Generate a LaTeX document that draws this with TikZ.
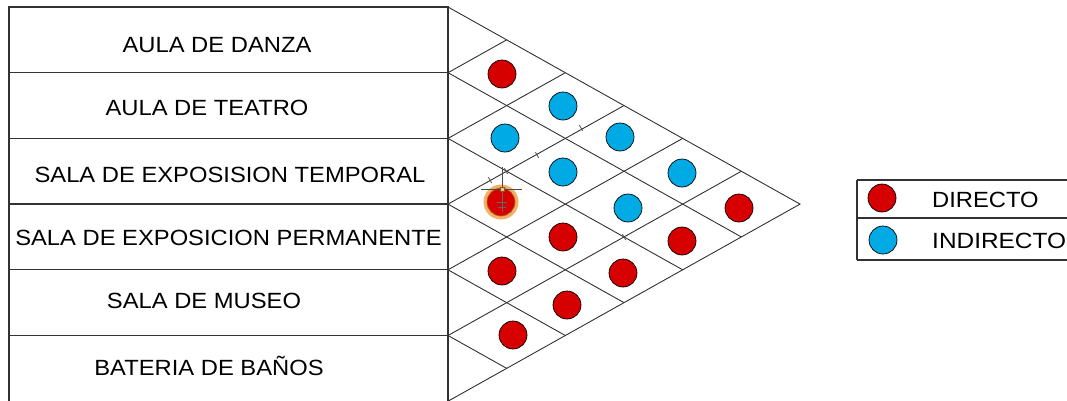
\documentclass[tikz,border=0pt]{standalone}
\usepackage{fontspec}
\setmainfont{Liberation Sans}
\usepackage{graphicx}
\definecolor{dred}{RGB}{214,0,0}
\definecolor{dblue}{RGB}{0,170,228}
\definecolor{halo}{RGB}{240,150,50}
\definecolor{tline}{RGB}{50,50,50}
\newcommand\stx[1]{\scalebox{1.08}[1]{#1}}
\begin{document}
\begin{tikzpicture}[x=1pt,y=-1pt,
  tableline/.style={draw=tline,line width=1.3pt},
  gridline/.style={draw=tline,line width=0.9pt},
  lbl/.style={anchor=base,inner sep=0pt,font=\fontsize{22}{22}\selectfont},
  dot/.style={circle,draw=black,line width=0.7pt,minimum size=28pt,inner sep=0pt},
  rdot/.style={dot,fill=dred},
  bdot/.style={dot,fill=dblue},
  selmark/.style={draw=black!70,line width=0.8pt}]
\useasboundingbox (0,0) rectangle (1067,400);
\clip (0,0) rectangle (1067,400);
\def\h{65.7}
\def\w{58.6667}
% boundary points
\foreach \k in {0,...,6}{\coordinate (b\k) at (448,{7+\k*\h});}
\coordinate (apex) at (800,{7+3*\h});
% table
\draw[tableline] (9,7) rectangle (448,{7+6*\h});
\foreach \k in {1,...,5}{\draw[tableline] (9,{7+\k*\h}) -- (b\k);}
% row labels
\node[lbl] (r1) at (217,52) {\stx{AULA DE DANZA}};
\node[lbl] (r2) at (207,115) {\stx{AULA DE TEATRO}};
\node[lbl] (r3) at (230,182) {\stx{SALA DE EXPOSISION TEMPORAL}};
\node[lbl] (r4) at (228.5,245) {\stx{SALA DE EXPOSICION PERMANENTE}};
\node[lbl] (r5) at (204,308) {\stx{SALA DE MUSEO}};
\node[lbl] (r6) at (209,375) {\stx{BATERIA DE BAÑOS}};
% triangle outline
\draw[gridline] (b0) -- (apex) -- (b6);
% grid lines
\foreach \k in {1,...,5}{
  \coordinate (d\k) at ({448+(6-\k)*\w},{(14+(\k+6)*\h)/2});
  \coordinate (u\k) at ({448+\k*\w},{(14+\k*\h)/2});
  \draw[gridline] (b\k) -- (d\k);
  \draw[gridline] (b\k) -- (u\k);
}
% highlight halo
\fill[halo,opacity=0.75] (501,202) circle (17.5);
% circles
\node[rdot] (c01) at (502,74) {};
\node[bdot] (c02) at (563,106) {};
\node[bdot] (c12) at (505,138) {};
\node[bdot] (c03) at (620,137) {};
\node[bdot] (c13) at (563,172) {};
\node[bdot] (c04) at (682,173) {};
\node[rdot,draw=halo!70!black] (c23) at (501,202) {};
\node[bdot] (c14) at (628,208) {};
\node[rdot] (c05) at (739,208) {};
\node[rdot] (c24) at (563,237) {};
\node[rdot] (c15) at (682,241) {};
\node[rdot] (c34) at (502,271) {};
\node[rdot] (c25) at (623,273) {};
\node[rdot] (c35) at (567,305) {};
\node[rdot] (c45) at (513,335) {};
% selection marks
\coordinate (g) at (502,189);
\draw[selmark] (502,167) -- (g);
\draw[selmark] (481,189) -- (522,189);
\draw[draw=halo!60!black,fill=halo!60,line width=0.6pt] (500,187) rectangle (504,191);
\draw[draw=black!60,line width=0.7pt] (502,192) -- (502,212) (497,202) -- (507,202) (498,207) -- (506,207);
\foreach \p in {(490,180),(506,171),(537,155),(581,128),(624,237)}{
  \draw[selmark] \p ++(-1.6,-2.8) -- ++(3.2,5.6);
}
% legend
\draw[tableline] (857,180) -- (1080,180) (857,260) -- (1080,260) (857,180) -- (857,260);
\draw[tableline] (857,218) -- (1080,218);
\node[rdot] (lr) at (882,198) {};
\node[bdot] (lb) at (883,240) {};
\node[lbl,anchor=base west] (ld) at (932,207) {\stx{DIRECTO}};
\node[lbl,anchor=base west] (li) at (932,248) {\scalebox{1.11}[1]{INDIRECTO}};
\end{tikzpicture}
\end{document}
